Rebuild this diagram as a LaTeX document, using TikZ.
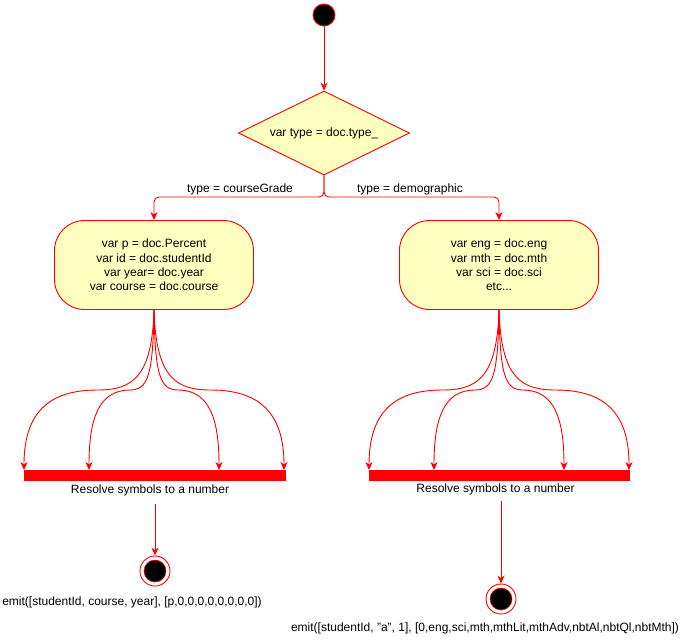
\documentclass[tikz,border=0pt]{standalone}
\usepackage{fontspec}
\setmainfont{Liberation Sans}
\usetikzlibrary{shapes.geometric,arrows.meta}
\definecolor{fillyel}{HTML}{FFFFC0}
\definecolor{lnred}{HTML}{FF0000}
\tikzset{
  every node/.style={font=\fontsize{12}{14.3}\selectfont, text=black},
  conn/.style={draw=lnred, line width=0.9pt, -{Stealth[length=8pt,width=7pt,inset=2.5pt]}},
  actbox/.style={draw=lnred, fill=fillyel, line width=0.9pt, rounded corners=30pt, minimum width=199pt, minimum height=89pt, align=center},
  decbox/.style={draw=lnred, fill=fillyel, line width=0.9pt, diamond, inner sep=0pt, minimum width=171pt, minimum height=84pt, shape aspect=2},
  forkbar/.style={fill=lnred, draw=lnred, inner sep=0pt, minimum height=9.5pt},
  startdot/.style={circle, fill=black, draw=lnred, line width=0.9pt, inner sep=0pt, minimum size=22pt},
  endring/.style={circle, fill=white, draw=lnred, line width=0.9pt, inner sep=0pt, minimum size=30pt},
  enddot/.style={circle, fill=black, draw=lnred, line width=0.6pt, inner sep=0pt, minimum size=22pt},
}
\begin{document}
\begin{tikzpicture}[x=1pt,y=-1pt]
\useasboundingbox (0,0) rectangle (692,641);
% start
\node[startdot] (start) at (324,15) {};
\node[decbox] (dec) at (324,133) {var type = doc.type\_};
\draw[conn] (start) -- (dec.north);
% boxes
\node[actbox] (boxL) at (154,265) {var p = doc.Percent\\var id = doc.studentId\\var year= doc.year\\var course = doc.course};
\node[actbox] (boxR) at (499,265) {var eng = doc.eng\\var mth = doc.mth\\var sci = doc.sci\\etc...};
\draw[conn, rounded corners=5pt] (dec.south) -- (324,197) -- (154,197) -- (boxL.north);
\draw[conn, rounded corners=5pt] (dec.south) -- (324,197) -- (499,197) -- (boxR.north);
\node (lblL) at (240,189) {type = courseGrade};
\node (lblR) at (410,189) {type = demographic};
% bars
\node[forkbar, minimum width=261pt] (barL) at (154.5,475) {};
\node[forkbar, minimum width=260pt] (barR) at (499,475) {};
\node (resL) at (150,490) {Resolve symbols to a number};
\node (resR) at (495.5,489) {Resolve symbols to a number};
\coordinate (l1) at (24,470);
\coordinate (l2) at (89,470);
\coordinate (l3) at (219,470);
\coordinate (l4) at (284,470);
\coordinate (r1) at (369,470);
\coordinate (r2) at (434,470);
\coordinate (r3) at (564,470);
\coordinate (r4) at (629,470);
% left fan
\draw[conn] (boxL.south) .. controls (152,378) and (132,390) .. (97,390) .. controls (42,390) and (24,420) .. (l1);
\draw[conn] (boxL.south) .. controls (153,375) and (148,390) .. (130,390) .. controls (98,390) and (89,420) .. (l2);
\draw[conn] (boxL.south) .. controls (155,375) and (160,390) .. (178,390) .. controls (210,390) and (219,420) .. (l3);
\draw[conn] (boxL.south) .. controls (156,378) and (176,390) .. (211,390) .. controls (266,390) and (284,420) .. (l4);
% right fan
\draw[conn] (boxR.south) .. controls (497,378) and (477,390) .. (442,390) .. controls (387,390) and (369,420) .. (r1);
\draw[conn] (boxR.south) .. controls (498,375) and (493,390) .. (475,390) .. controls (443,390) and (434,420) .. (r2);
\draw[conn] (boxR.south) .. controls (500,375) and (505,390) .. (523,390) .. controls (555,390) and (564,420) .. (r3);
\draw[conn] (boxR.south) .. controls (501,378) and (521,390) .. (556,390) .. controls (611,390) and (629,420) .. (r4);
% ends
\node[endring] (endL) at (155,571) {};
\node[enddot] at (endL) {};
\node[endring] (endR) at (501,599) {};
\node[enddot] at (endR) {};
\coordinate (dL) at (155,504);
\coordinate (dR) at (501,501);
\draw[conn] (dL) -- (endL.north);
\draw[conn] (dR) -- (endR.north);
\node (emitL) at (132,602) {emit([studentId, course, year], [p,0,0,0,0,0,0,0,0])};
\node (emitR) at (485,628) {emit([studentId, "a", 1], [0,eng,sci,mth,mthLit,mthAdv,nbtAl,nbtQl,nbtMth])};
\end{tikzpicture}
\end{document}
